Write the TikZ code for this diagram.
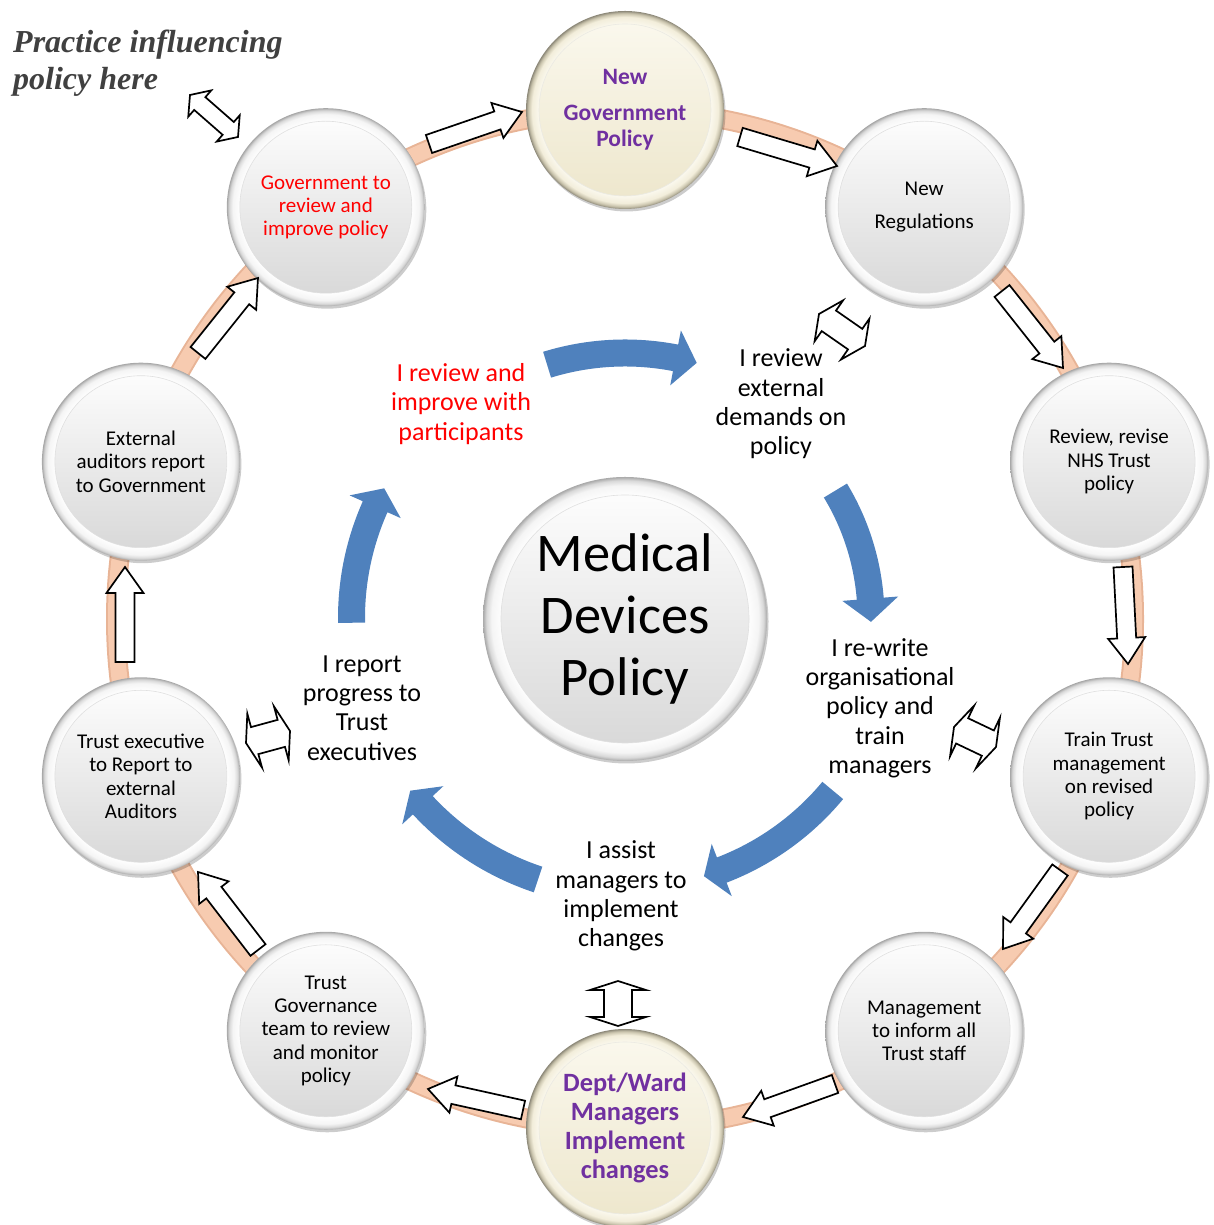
\documentclass[tikz,border=0pt]{standalone}
\usepackage{fontspec}
\setmainfont{Carlito}
\newfontfamily\practicefont{Liberation Serif}
\usetikzlibrary{calc,shadows}
\definecolor{ringpeach}{HTML}{F7CBB0}
\definecolor{ringedge}{HTML}{E8B496}
\definecolor{cycleblue}{HTML}{4F81BD}
\definecolor{plum}{HTML}{7030A0}
\definecolor{creamA}{HTML}{FBF9EF}
\definecolor{creamB}{HTML}{EDE6CB}
\definecolor{practicegray}{HTML}{404040}
\pgfdeclareradialshading{rimgray}{\pgfpointorigin}{color(0bp)=(white); color(21.5bp)=(white); color(23.5bp)=(black!4); color(24.4bp)=(black!15); color(25bp)=(black!34); color(50bp)=(black!34)}
\pgfdeclareradialshading{rimcream}{\pgfpointorigin}{color(0bp)=(white); color(21.5bp)=(creamA); color(23.5bp)=(creamB!70); color(24.4bp)=(creamB!85!black); color(25bp)=(creamB!60!black); color(50bp)=(creamB!60!black)}
% single block arrow from tail coordinate #1 to tip coordinate #2
\newcommand\wblock[2]{%
  \path[blockline] let \p1=(#1), \p2=(#2), \n1={atan2(\y2-\y1,\x2-\x1)}, \n2={veclen(\x2-\x1,\y2-\y1)} in
    [shift={(\p1)}, rotate=\n1] (0,-9.5) -- ({\n2-26},-9.5) -- ({\n2-26},-18.5) -- (\n2,0) -- ({\n2-26},18.5) -- ({\n2-26},9.5) -- (0,9.5) -- cycle;}
% double block arrow between tips #1 and #2, head width #3, shaft width #4, head length #5
\newcommand\dblock[5]{%
  \path[blockline] let \p1=(#1), \p2=(#2), \n1={atan2(\y2-\y1,\x2-\x1)}, \n2={veclen(\x2-\x1,\y2-\y1)} in
    [shift={(\p1)}, rotate=\n1] (0,0) -- (#5,{#3/2}) -- (#5,{#4/2}) -- ({\n2-#5},{#4/2}) -- ({\n2-#5},{#3/2}) -- (\n2,0)
    -- ({\n2-#5},{-#3/2}) -- ({\n2-#5},{-#4/2}) -- (#5,{-#4/2}) -- (#5,{-#3/2}) -- cycle;}
% curved blue arrow: start angle, head base angle, tip angle, radius
\newcommand\bluearc[4]{%
  \fill[cycleblue] ([shift={(cyc)}]#1:{#4+13.5}) arc[start angle=#1, end angle=#2, radius={#4+13.5}]
    -- ([shift={(cyc)}]#2:{#4+28}) -- ([shift={(cyc)}]#3:#4) -- ([shift={(cyc)}]#2:{#4-28})
    -- ([shift={(cyc)}]#2:{#4-13.5}) arc[start angle=#2, end angle=#1, radius={#4-13.5}] -- cycle;}
\begin{document}
\begin{tikzpicture}[x=1pt,y=1pt,
  blockline/.style={draw=black, fill=white, line width=1.7pt, line join=miter},
  btnshadow/.style={drop shadow={shadow xshift=1.5pt, shadow yshift=-2.5pt, opacity=.2, fill=black}},
  graybtn/.style={circle, inner sep=0pt, minimum size=198pt, align=center, shade, shading=rimgray, btnshadow,
    path picture={\shade[top color=white, bottom color=black!16, draw=black!12, line width=.6pt] (path picture bounding box.center) circle (86);},
    font=\fontsize{21}{23.3}\selectfont},
  creambtn/.style={circle, inner sep=0pt, minimum size=198pt, align=center, shade, shading=rimcream, btnshadow,
    path picture={\shade[top color=creamA, bottom color=creamB, draw=creamB!80!black!30, line width=.6pt] (path picture bounding box.center) circle (86);},
    text=plum},
  centerbtn/.style={circle, inner sep=0pt, minimum size=284pt, align=center, shade, shading=rimgray, btnshadow,
    path picture={\shade[top color=white, bottom color=black!16, draw=black!12, line width=.6pt] (path picture bounding box.center) circle (124);},
    font=\fontsize{54.5}{62}\selectfont},
  innerlabel/.style={align=center, inner sep=0pt, font=\fontsize{26}{29.3}\selectfont}
]
\useasboundingbox (0,0) rectangle (1213,1225);
\coordinate (ring) at (625,606);
\coordinate (cyc) at (625,607);
% ring band
\draw[ringedge, line width=20pt] (ring) circle (509);
\draw[ringpeach, line width=16pt] (ring) circle (509);
% ring circles
\node[creambtn, font=\bfseries\fontsize{23.5}{26}\selectfont] (newgov) at ([shift={(ring)}]90:509) {New\\[10pt]Government\\Policy};
\node[graybtn] (newreg) at ([shift={(ring)}]54:509) {New\\[9.7pt]Regulations};
\node[graybtn] (review) at ([shift={(ring)}]18:509) {Review, revise\\NHS Trust\\policy};
\node[graybtn] (train) at ([shift={(ring)}]-18:509) {Train Trust\\management\\on revised\\policy};
\node[graybtn] (inform) at ([shift={(ring)}]-54:509) {Management\\to inform all\\Trust staff};
\node[creambtn, font=\bfseries\fontsize{26.4}{29.3}\selectfont] (dept) at ([shift={(ring)}]-90:509) {Dept/Ward\\Managers\\Implement\\changes};
\node[graybtn] (governance) at ([shift={(ring)}]-126:509) {Trust\\Governance\\team to review\\and monitor\\policy};
\node[graybtn] (trustexec) at ([shift={(ring)}]-162:509) {Trust executive\\to Report to\\external\\Auditors};
\node[graybtn] (auditors) at ([shift={(ring)}]162:509) {External\\auditors report\\to Government};
\node[graybtn, text=red] (govreview) at ([shift={(ring)}]126:509) {Government to\\review and\\improve policy};
% centre
\node[centerbtn] (centre) at (625,606) {Medical\\Devices\\Policy};
% inner cycle arrows
\bluearc{107.1}{79}{74.3}{265}
\bluearc{31.2}{4.5}{-0.9}{246}
\bluearc{-39.7}{-69}{-73}{270}
\bluearc{-108.4}{-137.2}{-141.2}{275.6}
\bluearc{181}{156}{151.7}{273.5}
% inner labels
\node[innerlabel, text=red] (improve) at (461,821) {I review and\\improve with\\participants};
\node[innerlabel] (external) at (781,821) {I review\\external\\demands on\\policy};
\node[innerlabel] (rewrite) at (880,517) {I re-write\\organisational\\policy and\\train\\managers};
\node[innerlabel] (assist) at (621,329) {I assist\\managers to\\implement\\changes};
\node[innerlabel] (report) at (362,517) {I report\\progress to\\Trust\\executives};
% practice text
\node[anchor=north west, inner sep=0pt, align=left, text=practicegray, font=\practicefont\bfseries\itshape\fontsize{32}{37}\selectfont] (practice) at (13,1195) {Practice influencing\\policy here};
% white block arrows between ring circles
\coordinate (w1t) at (429,1081); \coordinate (w1h) at (522,1113);
\coordinate (w2t) at (740,1088); \coordinate (w2h) at (837,1059);
\coordinate (w3t) at (1002,934); \coordinate (w3h) at (1063,857);
\coordinate (w4t) at (1123,658); \coordinate (w4h) at (1128,561);
\coordinate (w5t) at (1060,355); \coordinate (w5h) at (1003,276);
\coordinate (w6t) at (835,141);  \coordinate (w6h) at (743,108);
\coordinate (w7t) at (523,115);  \coordinate (w7h) at (428,136);
\coordinate (w8t) at (258,275);  \coordinate (w8h) at (198,353);
\coordinate (w9t) at (125,563);  \coordinate (w9h) at (125,658);
\coordinate (w10t) at (198,872); \coordinate (w10h) at (258,947);
\wblock{w1t}{w1h}\wblock{w2t}{w2h}\wblock{w3t}{w3h}\wblock{w4t}{w4h}\wblock{w5t}{w5h}
\wblock{w6t}{w6h}\wblock{w7t}{w7h}\wblock{w8t}{w8h}\wblock{w9t}{w9h}\wblock{w10t}{w10h}
% double arrows
\coordinate (dA1) at (190,1130); \coordinate (dA2) at (238,1088);
\coordinate (dB1) at (819,911);  \coordinate (dB2) at (865,879);
\coordinate (dC1) at (954,498);  \coordinate (dC2) at (996,478);
\coordinate (dD1) at (246,482);  \coordinate (dD2) at (290,494);
\coordinate (dE1) at (618,244);  \coordinate (dE2) at (618,199);
\dblock{dA1}{dA2}{35}{17}{13}
\dblock{dB1}{dB2}{50}{25}{12}
\dblock{dC1}{dC2}{56}{28}{9}
\dblock{dD1}{dD2}{56}{28}{9}
\dblock{dE1}{dE2}{56}{28}{9}
\end{tikzpicture}
\end{document}
